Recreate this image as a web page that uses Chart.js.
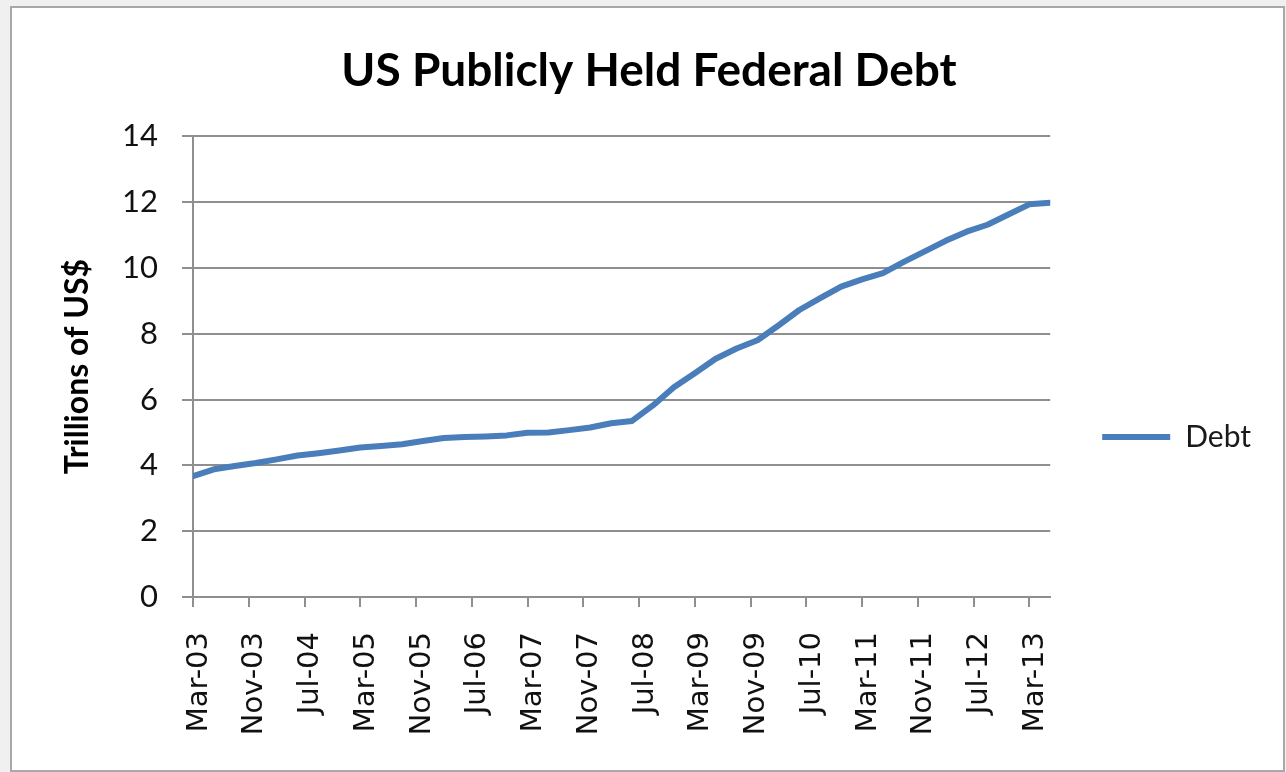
<!DOCTYPE html>
<html>
<head>
<meta charset="utf-8">
<title>US Publicly Held Federal Debt</title>
<script src="https://cdn.jsdelivr.net/npm/chart.js@4"></script>
<style>
  html, body { margin:0; padding:0; background:#f0f0f0; }
  #frame {
    position:absolute; left:10px; top:6px;
    width:1271px; height:762px;
    border:2px solid #a8a8a8; background:#fff;
  }
  #frame canvas { display:block; }
</style>
</head>
<body>
<div id="frame"><canvas id="debtChart" width="1271" height="762"></canvas></div>
<script>
// quarterly readings, trillions of US$
const quarters = [
  'Mar-03','Jun-03','Sep-03','Dec-03',
  'Mar-04','Jun-04','Sep-04','Dec-04',
  'Mar-05','Jun-05','Sep-05','Dec-05',
  'Mar-06','Jun-06','Sep-06','Dec-06',
  'Mar-07','Jun-07','Sep-07','Dec-07',
  'Mar-08','Jun-08','Sep-08','Dec-08',
  'Mar-09','Jun-09','Sep-09','Dec-09',
  'Mar-10','Jun-10','Sep-10','Dec-10',
  'Mar-11','Jun-11','Sep-11','Dec-11',
  'Mar-12','Jun-12','Sep-12','Dec-12',
  'Mar-13','Jun-13'
];
const debt = [
  3.67, 3.88, 3.98, 4.07,
  4.18, 4.30, 4.37, 4.45,
  4.54, 4.59, 4.64, 4.74,
  4.83, 4.86, 4.88, 4.91,
  4.99, 5.00, 5.07, 5.15,
  5.28, 5.35, 5.82, 6.37,
  6.80, 7.24, 7.55, 7.80,
  8.25, 8.72, 9.08, 9.43,
  9.65, 9.84, 10.18, 10.50,
  10.82, 11.10, 11.31, 11.62,
  11.93, 11.98
];
const yTicks = [0, 2, 4, 6, 8, 10, 12, 14];
const xTickLabels = ['Mar-03','Nov-03','Jul-04','Mar-05','Nov-05','Jul-06','Mar-07','Nov-07',
                     'Jul-08','Mar-09','Nov-09','Jul-10','Mar-11','Nov-11','Jul-12','Mar-13'];

const MONTHS = ['Jan','Feb','Mar','Apr','May','Jun','Jul','Aug','Sep','Oct','Nov','Dec'];
const START = 2003 * 12 + 2; // Mar-03

function monthIndex(label){
  const [m, yy] = label.split('-');
  return (2000 + Number(yy)) * 12 + MONTHS.indexOf(m) - START;
}
function monthLabel(idx){
  const t = START + idx;
  const y = Math.floor(t / 12), m = t % 12;
  return MONTHS[m] + '-' + String(y % 100).padStart(2, '0');
}

const lineColor = '#4a7ebb';
const gridColor = '#8f8f8f';
const points = quarters.map((q, i) => ({ x: monthIndex(q), y: debt[i] }));
const lastMonth = monthIndex(quarters[quarters.length - 1]);

new Chart(document.getElementById('debtChart'), {
  type: 'line',
  data: {
    datasets: [{
      label: 'Debt',
      data: points,
      borderColor: lineColor,
      backgroundColor: lineColor,
      borderWidth: 6,
      borderCapStyle: 'round',
      borderJoinStyle: 'round',
      pointRadius: 0,
      tension: 0,
      fill: false
    }]
  },
  options: {
    responsive: false,
    animation: false,
    layout: { padding: { left: 25, right: 22, top: 0, bottom: 0 } },
    plugins: {
      tooltip: { enabled: false },
      title: {
        display: true,
        text: 'US Publicly Held Federal Debt',
        color: '#000',
        font: { family: 'Lato', size: 46, weight: 'bold' },
        padding: { top: 36, bottom: 37 }
      },
      legend: {
        position: 'right',
        // empty title only pushes the entry down to where Excel centres it
        title: { display: true, text: '', font: { size: 10 }, padding: { top: 84, bottom: 0 } },
        labels: {
          boxWidth: 68,
          boxHeight: 6,
          padding: 52,
          color: '#1a1a1a',
          font: { family: 'Lato', size: 30 },
          generateLabels: chart => Chart.defaults.plugins.legend.labels.generateLabels(chart)
            .map(l => ({ ...l, lineWidth: 0, fillStyle: lineColor }))
        }
      }
    },
    scales: {
      x: {
        type: 'linear',
        min: 0,
        max: lastMonth,
        afterFit: s => { s.height = 173; },
        afterBuildTicks: s => { s.ticks = xTickLabels.map(l => ({ value: monthIndex(l) })); },
        border: { color: gridColor, width: 2 },
        grid: { drawOnChartArea: false, tickLength: 10, color: gridColor, lineWidth: 2 },
        ticks: {
          minRotation: 90,
          maxRotation: 90,
          autoSkip: false,
          padding: 25,
          labelOffset: 6,
          color: '#111',
          font: { family: 'DejaVu Sans', size: 29 },
          callback: v => monthLabel(v)
        }
      },
      y: {
        min: 0,
        max: 14,
        afterFit: s => { s.width = 156; },
        afterBuildTicks: s => { s.ticks = yTicks.map(v => ({ value: v })); },
        border: { color: gridColor, width: 2 },
        grid: { color: gridColor, lineWidth: 2, tickLength: 11 },
        ticks: {
          padding: 24,
          color: '#111',
          font: { family: 'Lato', size: 31 }
        },
        title: {
          display: true,
          text: 'Trillions of US$',
          color: '#000',
          font: { family: 'Lato', size: 32, weight: 'bold' },
          padding: { top: 21, bottom: 0 }
        }
      }
    }
  }
});
</script>
</body>
</html>
